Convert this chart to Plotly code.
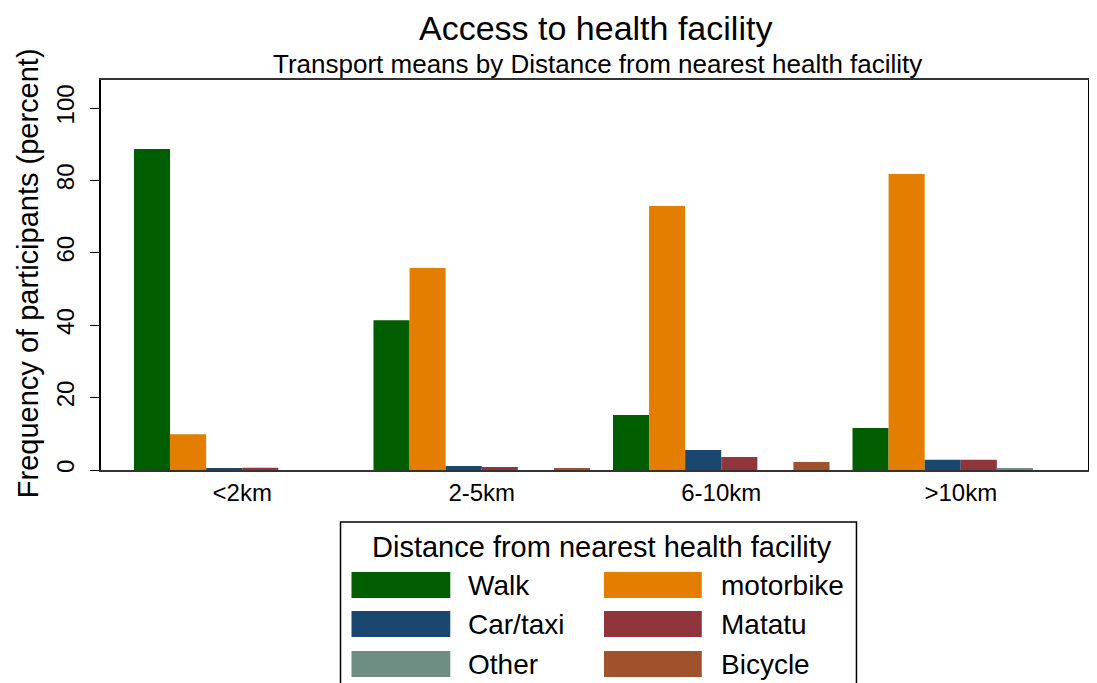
import plotly.graph_objects as go

distances = ["<2km", "2-5km", "6-10km", ">10km"]
modes = ["Walk", "motorbike", "Car/taxi", "Matatu", "Other", "Bicycle"]
colors = ["#005E00", "#E37E00", "#1A476F", "#90353B", "#6E8E84", "#A0522D"]

walk = [88.7, 41.4, 15.2, 11.6]
motorbike = [9.9, 55.8, 72.9, 81.8]
car_taxi = [0.3, 1.1, 5.5, 2.8]
matatu = [0.6, 0.8, 3.6, 2.8]
other = [0.0, 0.0, 0.0, 0.5]
bicycle = [0.0, 0.3, 2.2, 0.0]
series = [walk, motorbike, car_taxi, matatu, other, bicycle]

FONT = "Liberation Sans, Arial, sans-serif"

# page body has an 8px margin, so figure coords = screen coords - 8
OFF = 8
W, H = 1097 - OFF, 683 - OFF
L, R, T, B = 101 - OFF, 1090 - OFF, 80 - OFF, 470 - OFF
GROUP0, STEP = 242.5 - OFF, 240


def px_x(x):
    return (x - OFF - L) / (R - L)


def px_y(y):
    return (B - (y - OFF)) / (B - T)


fig = go.Figure()
for name, vals, col in zip(modes, series, colors):
    fig.add_trace(go.Bar(x=distances, y=vals, name=name, marker_color=col,
                         marker_line_width=0, showlegend=False))

fig.update_layout(
    width=W, height=H,
    margin=dict(l=L, r=W - R, t=T, b=H - B),
    barmode="group", bargap=0.096, bargroupgap=0,
    plot_bgcolor="white", paper_bgcolor="white",
    font=dict(family=FONT, color="black"),
)
fig.update_xaxes(
    range=[(L - GROUP0) / STEP, (R - GROUP0) / STEP],
    showline=True, linecolor="#333333", linewidth=2, mirror=True,
    ticks="", showgrid=False, tickfont=dict(size=24),
)
fig.update_yaxes(
    range=[0, (B - T) / 3.62],
    tickvals=[0, 20, 40, 60, 80, 100], tickangle=-90,
    showline=True, linecolor="black", linewidth=1.5, mirror=True,
    ticks="outside", ticklen=9, tickcolor="black", showgrid=False,
    tickfont=dict(size=24), zeroline=False, ticklabelstandoff=7,
)

# titles
fig.add_annotation(text="Access to health facility", xref="paper", yref="paper",
                   x=px_x(597), y=px_y(28), showarrow=False, font=dict(size=34),
                   xanchor="center", yanchor="middle", borderpad=0)
fig.add_annotation(text="Transport means by Distance from nearest health facility",
                   xref="paper", yref="paper", x=px_x(599), y=px_y(64), showarrow=False,
                   font=dict(size=26), xanchor="center", yanchor="middle")
fig.add_annotation(text="Frequency of participants (percent)", xref="paper", yref="paper",
                   x=px_x(28), y=px_y(273), showarrow=False, textangle=-90,
                   font=dict(size=29), xanchor="center", yanchor="middle")

# legend box drawn by hand (wide Stata-style swatches)
fig.add_shape(type="rect", xref="paper", yref="paper",
              x0=px_x(341), x1=px_x(858), y0=px_y(522), y1=px_y(700),
              line=dict(color="black", width=1.5), fillcolor="white")
fig.add_annotation(text="Distance from nearest health facility", xref="paper", yref="paper",
                   x=px_x(603), y=px_y(547), showarrow=False, font=dict(size=29),
                   xanchor="center", yanchor="middle")
rows = [572, 611, 651]
cols = [(352, 451, 467), (605, 703, 720)]
for i, (name, col) in enumerate(zip(modes, colors)):
    r, c = divmod(i, 2)
    x0, x1, xt = cols[c]
    y0 = rows[r]
    fig.add_shape(type="rect", xref="paper", yref="paper",
                  x0=px_x(x0), x1=px_x(x1), y0=px_y(y0), y1=px_y(y0 + 26),
                  line=dict(width=0), fillcolor=col)
    fig.add_annotation(text=name, xref="paper", yref="paper",
                       x=px_x(xt), y=px_y(y0 + 13), showarrow=False, font=dict(size=28),
                       xanchor="left", yanchor="middle")

fig.write_html("out.html")
